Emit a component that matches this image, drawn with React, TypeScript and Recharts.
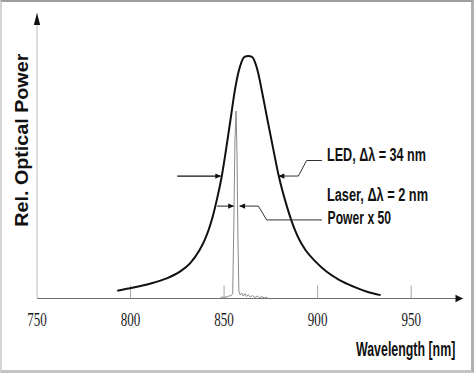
import React from 'react';
import { LineChart, Line, XAxis, YAxis, ReferenceLine, ReferenceDot } from 'recharts';

// LED spectrum (nm, relative power)
const ledWavelength = [
  792.9, 801.5, 810.4, 819.3, 826.4, 831.8, 836.9, 839.6, 841.7, 843.9, 846.5, 848.7, 851.0,
  853.4, 855.8, 857.7, 859.3, 860.9, 862.9, 864.9, 866.5, 868.1, 870.1, 873.2, 876.4, 879.1,
  883.6, 887.9, 890.3, 893.5, 898.9, 904.7, 911.7, 919.2, 926.4, 933.7,
];
const ledPower = [
  0.032, 0.045, 0.061, 0.083, 0.111, 0.145, 0.2, 0.241, 0.282, 0.337, 0.42, 0.502, 0.612,
  0.736, 0.86, 0.934, 0.975, 0.996, 1.0, 0.996, 0.975, 0.934, 0.86, 0.736, 0.612, 0.509,
  0.379, 0.282, 0.241, 0.2, 0.152, 0.111, 0.076, 0.049, 0.028, 0.014,
];

// Laser spectrum (power x 50)
const laserWavelength = [
  848.0, 849.5, 851.0, 852.5, 853.8, 854.6, 855.2, 855.8, 856.4, 856.9, 857.4, 857.9, 858.6,
  859.5, 860.3, 861.2, 862.0, 863.0, 864.0, 865.2, 866.5, 867.8, 869.0, 870.2, 871.5, 872.8, 873.5,
];
const laserPower = [
  0.004, 0.006, 0.005, 0.01, 0.012, 0.02, 0.3, 0.65, 0.773, 0.6, 0.25, 0.03, 0.015,
  0.022, 0.01, 0.02, 0.008, 0.016, 0.006, 0.012, 0.004, 0.01, 0.003, 0.008, 0.002, 0.005, 0.0,
];

const xTicks = [750, 800, 850, 900, 950];
const innerTicks = [800, 850, 900, 950];
const xLabel = 'Wavelength [nm]';
const yLabel = 'Rel. Optical Power';
const ledNote = 'LED, Δλ = 34 nm';
const laserNote = 'Laser, Δλ = 2 nm';
const powerNote = 'Power x 50';

const ledData = ledWavelength.map((w, i) => ({ w, p: ledPower[i] }));
const laserData = laserWavelength.map((w, i) => ({ w, p: laserPower[i] }));

const X_MIN = 750;
const X_MAX = 977.7;
const Y_MAX = 1.1773;
const TICK_H = 0.0536;

const SANS = '"Liberation Sans", Arial, sans-serif';
const SERIF = '"Liberation Serif", "Times New Roman", serif';

const XTick = (props: any) => {
  const { x, y, payload } = props;
  return (
    <text
      x={x - 9.8}
      y={y + 19.5}
      fontFamily={SERIF}
      fontSize={19}
      fill="#1a1a1a"
      textLength={19.6}
      lengthAdjust="spacingAndGlyphs"
    >
      {payload.value}
    </text>
  );
};

const arrowRight = (p: any) => (
  <polygon points={`${p.cx},${p.cy} ${p.cx - 6},${p.cy - 2.6} ${p.cx - 6},${p.cy + 2.6}`} fill="#111" />
);
const arrowLeft = (p: any) => (
  <polygon points={`${p.cx},${p.cy} ${p.cx + 6},${p.cy - 2.6} ${p.cx + 6},${p.cy + 2.6}`} fill="#111" />
);
const arrowUp = (p: any) => (
  <polygon points={`${p.cx},${p.cy} ${p.cx - 3.2},${p.cy + 12} ${p.cx + 3.2},${p.cy + 12}`} fill="#111" />
);
const arrowAxisRight = (p: any) => (
  <polygon points={`${p.cx},${p.cy} ${p.cx - 7.5},${p.cy - 3.8} ${p.cx - 7.5},${p.cy + 3.8}`} fill="#111" />
);

const makeText = (txt: string, len: number, size: number, weight: number) => (p: any) => (
  <text
    x={p.cx}
    y={p.cy}
    fontFamily={SANS}
    fontSize={size}
    fontWeight={weight}
    fill="#111"
    textLength={len}
    lengthAdjust="spacingAndGlyphs"
  >
    {txt}
  </text>
);

const XAxisLabel = (props: any) => {
  const vb = props.viewBox || { x: 37, y: 298.5, width: 426, height: 74.5 };
  const lx = vb.x + vb.width - 107;
  const ly = vb.y + 57.5;
  return (
    <g transform={`translate(${lx}, ${ly}) scale(0.59, 1)`}>
      <text x={0} y={0} fontFamily={SANS} fontSize={21} fontWeight={700} fill="#111">
        {xLabel}
      </text>
    </g>
  );
};

const YAxisLabel = (props: any) => {
  const vb = props.viewBox || { x: 0, y: 13, width: 37, height: 285.5 };
  const bx = vb.x + 28.3;
  const by = vb.y + 213.7;
  return (
    <text
      x={0}
      y={0}
      transform={`translate(${bx}, ${by}) rotate(-90)`}
      fontFamily={SANS}
      fontSize={18.5}
      fontWeight={700}
      fill="#111"
      textLength={173}
      lengthAdjust="spacingAndGlyphs"
    >
      {yLabel}
    </text>
  );
};

export default function App() {
  return (
    <div style={{ position: 'absolute', left: 0, top: 0, width: 474, height: 373, background: '#fff' }}>
      <LineChart width={474} height={373} margin={{ top: 13, right: 11, bottom: 0, left: 0 }}>
        <XAxis
          type="number"
          dataKey="w"
          domain={[X_MIN, X_MAX]}
          ticks={xTicks}
          interval={0}
          allowDataOverflow
          height={74.5}
          tickLine={false}
          axisLine={{ stroke: '#707070', strokeWidth: 1 }}
          tick={<XTick />}
          label={{ content: (p: any) => <XAxisLabel {...p} /> }}
        />
        <YAxis
          type="number"
          domain={[0, Y_MAX]}
          allowDataOverflow
          width={37}
          tick={false}
          tickLine={false}
          axisLine={{ stroke: '#bdbdbd', strokeWidth: 1 }}
          label={{ content: (p: any) => <YAxisLabel {...p} /> }}
        />
        {innerTicks.map((t) => (
          <ReferenceLine
            key={t}
            segment={[{ x: t, y: 0 }, { x: t, y: TICK_H }]}
            stroke="#a8a8a8"
            strokeWidth={1}
          />
        ))}
        <Line
          data={laserData}
          dataKey="p"
          type="linear"
          stroke="#8a8a8a"
          strokeWidth={1}
          dot={false}
          isAnimationActive={false}
        />
        <Line
          data={ledData}
          dataKey="p"
          type="monotone"
          stroke="#111"
          strokeWidth={2}
          dot={false}
          isAnimationActive={false}
        />
        {/* LED FWHM markers */}
        <ReferenceLine segment={[{ x: 825.0, y: 0.505 }, { x: 848.0, y: 0.505 }]} stroke="#111" strokeWidth={1.3} />
        <ReferenceDot x={848.5} y={0.505} r={3} shape={arrowRight} ifOverflow="visible" />
        <ReferenceLine segment={[{ x: 879.3, y: 0.505 }, { x: 889.7, y: 0.505 }]} stroke="#333" strokeWidth={1} />
        <ReferenceLine segment={[{ x: 889.7, y: 0.505 }, { x: 894.1, y: 0.569 }]} stroke="#333" strokeWidth={1} />
        <ReferenceLine segment={[{ x: 894.1, y: 0.569 }, { x: 902.3, y: 0.569 }]} stroke="#333" strokeWidth={1} />
        <ReferenceDot x={879.0} y={0.505} r={3} shape={arrowLeft} ifOverflow="visible" />
        {/* Laser FWHM markers */}
        <ReferenceLine segment={[{ x: 846.3, y: 0.381 }, { x: 855.0, y: 0.381 }]} stroke="#222" strokeWidth={1} />
        <ReferenceDot x={855.4} y={0.381} r={3} shape={arrowRight} ifOverflow="visible" />
        <ReferenceDot x={858.0} y={0.381} r={3} shape={arrowLeft} ifOverflow="visible" />
        <ReferenceLine segment={[{ x: 858.4, y: 0.381 }, { x: 868.3, y: 0.381 }]} stroke="#333" strokeWidth={1} />
        <ReferenceLine segment={[{ x: 868.3, y: 0.381 }, { x: 872.8, y: 0.324 }]} stroke="#333" strokeWidth={1} />
        <ReferenceLine segment={[{ x: 872.8, y: 0.324 }, { x: 902.3, y: 0.324 }]} stroke="#333" strokeWidth={1} />
        {/* Axis arrows */}
        <ReferenceDot x={X_MIN} y={Y_MAX} r={3} shape={arrowUp} ifOverflow="visible" />
        <ReferenceDot x={X_MAX} y={0} r={3} shape={arrowAxisRight} ifOverflow="visible" />
        {/* Notes */}
        <ReferenceDot x={905.0} y={0.565} r={1} shape={makeText(ledNote, 99, 18.5, 700)} ifOverflow="visible" />
        <ReferenceDot x={905.0} y={0.4} r={1} shape={makeText(laserNote, 101, 18, 700)} ifOverflow="visible" />
        <ReferenceDot x={905.3} y={0.307} r={1} shape={makeText(powerNote, 63.5, 17.5, 700)} ifOverflow="visible" />
      </LineChart>
      <div
        style={{
          position: 'absolute',
          left: 0,
          top: 0,
          width: 474,
          height: 373,
          boxSizing: 'border-box',
          borderTop: '2px solid #9e9e9e',
          borderLeft: '2px solid #d4d4d4',
          borderRight: '3px solid #b0b0b0',
          borderBottom: '3px solid #c4c4c4',
          pointerEvents: 'none',
        }}
      />
    </div>
  );
}
